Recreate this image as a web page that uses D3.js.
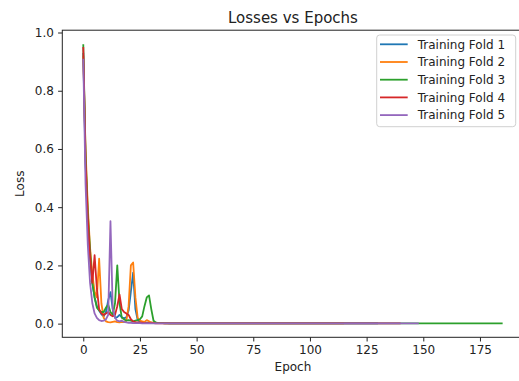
<!DOCTYPE html>
<html>
<head>
<meta charset="utf-8">
<script src="https://cdn.jsdelivr.net/npm/d3@7"></script>
<style>
  body { margin: 0; background: #fff; }
  svg { display: block; font-family: "DejaVu Sans", sans-serif; }
</style>
</head>
<body>
<div id="chart"><svg></svg></div>
<script>
// loss per epoch, one array per fold
var fold1 = [
  0.93, 0.55, 0.35, 0.22, 0.14, 0.09, 0.06, 0.045, 0.032, 0.025,
  0.04, 0.08, 0.108, 0.05, 0.02, 0.022, 0.03, 0.022, 0.018, 0.022,
  0.045, 0.11, 0.175, 0.05, 0.012, 0.007, 0.005, 0.004, 0.003, 0.003,
  0.003, 0.002, 0.002, 0.002, 0.002, 0.002, 0.002, 0.002, 0.001, 0.001,
  0.001, 0.001, 0.001, 0.001, 0.001, 0.001, 0.001, 0.001, 0.001, 0.001,
  0.001, 0.001, 0.001, 0.001, 0.001, 0.001, 0.001, 0.001, 0.001, 0.001,
  0.001, 0.001, 0.001, 0.001, 0.001, 0.001, 0.001, 0.001, 0.001, 0.001,
  0.001, 0.001, 0.001, 0.001, 0.001, 0.001, 0.001, 0.001, 0.001, 0.001,
  0.001, 0.001, 0.001, 0.001, 0.001, 0.001, 0.001, 0.001, 0.001, 0.001,
  0.001, 0.001, 0.001, 0.001, 0.001, 0.001, 0.001, 0.001, 0.001, 0.001,
  0.001, 0.001, 0.001, 0.001, 0.001, 0.001, 0.001, 0.001, 0.001, 0.001,
  0.001, 0.001, 0.001, 0.001, 0.001, 0.001, 0.001, 0.001, 0.001, 0.001,
  0.001, 0.001, 0.001, 0.001, 0.001, 0.001, 0.001, 0.001, 0.001, 0.001,
  0.001
];
var fold2 = [
  0.92, 0.6, 0.4, 0.26, 0.17, 0.11, 0.09, 0.223, 0.07, 0.02,
  0.008, 0.005, 0.004, 0.006, 0.008, 0.005, 0.004, 0.006, 0.005, 0.01,
  0.06, 0.2, 0.21, 0.09, 0.02, 0.01, 0.008, 0.006, 0.012, 0.008,
  0.004, 0.003, 0.002, 0.002, 0.002, 0.002, 0.001, 0.001, 0.001, 0.001,
  0.001, 0.001, 0.001, 0.001, 0.001, 0.001, 0.001, 0.001, 0.001, 0.001,
  0.001, 0.001, 0.001, 0.001, 0.001, 0.001, 0.001, 0.001, 0.001, 0.001,
  0.001, 0.001, 0.001, 0.001, 0.001, 0.001, 0.001, 0.001, 0.001, 0.001,
  0.001, 0.001, 0.001, 0.001, 0.001, 0.001, 0.001, 0.001, 0.001, 0.001,
  0.001, 0.001, 0.001, 0.001, 0.001, 0.001, 0.001, 0.001, 0.001, 0.001,
  0.001, 0.001, 0.001, 0.001, 0.001, 0.001, 0.001, 0.001, 0.001, 0.001,
  0.001, 0.001, 0.001, 0.001, 0.001, 0.001, 0.001, 0.001, 0.001, 0.001,
  0.001, 0.001, 0.001, 0.001, 0.001, 0.001
];
var fold3 = [
  0.96, 0.58, 0.38, 0.25, 0.14, 0.09, 0.055, 0.045, 0.04, 0.04,
  0.055, 0.065, 0.04, 0.03, 0.07, 0.2, 0.07, 0.02, 0.015, 0.01,
  0.012, 0.01, 0.008, 0.01, 0.012, 0.015, 0.025, 0.06, 0.09, 0.097,
  0.05, 0.01, 0.004, 0.002, 0.002, 0.002, 0.001, 0.001, 0.001, 0.001,
  0.001, 0.001, 0.001, 0.001, 0.001, 0.001, 0.001, 0.001, 0.001, 0.001,
  0.001, 0.001, 0.001, 0.001, 0.001, 0.001, 0.001, 0.001, 0.001, 0.001,
  0.001, 0.001, 0.001, 0.001, 0.001, 0.001, 0.001, 0.001, 0.001, 0.001,
  0.001, 0.001, 0.001, 0.001, 0.001, 0.001, 0.001, 0.001, 0.001, 0.001,
  0.001, 0.001, 0.001, 0.001, 0.001, 0.001, 0.001, 0.001, 0.001, 0.001,
  0.001, 0.001, 0.001, 0.001, 0.001, 0.001, 0.001, 0.001, 0.001, 0.001,
  0.001, 0.001, 0.001, 0.001, 0.001, 0.001, 0.001, 0.001, 0.001, 0.001,
  0.001, 0.001, 0.001, 0.001, 0.001, 0.001, 0.001, 0.001, 0.001, 0.001,
  0.001, 0.001, 0.001, 0.001, 0.001, 0.001, 0.001, 0.001, 0.001, 0.001,
  0.001, 0.001, 0.001, 0.001, 0.001, 0.001, 0.001, 0.001, 0.001, 0.001,
  0.001, 0.001, 0.001, 0.001, 0.001, 0.001, 0.001, 0.001, 0.001, 0.001,
  0.001, 0.001, 0.001, 0.001, 0.001, 0.001, 0.001, 0.001, 0.001, 0.001,
  0.001, 0.001, 0.001, 0.001, 0.001, 0.001, 0.001, 0.001, 0.001, 0.001,
  0.001, 0.001, 0.001, 0.001, 0.001, 0.001, 0.001, 0.001, 0.001, 0.001,
  0.001, 0.001, 0.001, 0.001, 0.001, 0.001
];
var fold4 = [
  0.95, 0.56, 0.36, 0.23, 0.14, 0.235, 0.12, 0.05, 0.035, 0.03,
  0.035, 0.04, 0.03, 0.025, 0.03, 0.06, 0.1, 0.05, 0.04, 0.035,
  0.03, 0.015, 0.008, 0.005, 0.004, 0.003, 0.003, 0.002, 0.002, 0.002,
  0.002, 0.002, 0.001, 0.001, 0.001, 0.001, 0.001, 0.001, 0.001, 0.001,
  0.001, 0.001, 0.001, 0.001, 0.001, 0.001, 0.001, 0.001, 0.001, 0.001,
  0.001, 0.001, 0.001, 0.001, 0.001, 0.001, 0.001, 0.001, 0.001, 0.001,
  0.001, 0.001, 0.001, 0.001, 0.001, 0.001, 0.001, 0.001, 0.001, 0.001,
  0.001, 0.001, 0.001, 0.001, 0.001, 0.001, 0.001, 0.001, 0.001, 0.001,
  0.001, 0.001, 0.001, 0.001, 0.001, 0.001, 0.001, 0.001, 0.001, 0.001,
  0.001, 0.001, 0.001, 0.001, 0.001, 0.001, 0.001, 0.001, 0.001, 0.001,
  0.001, 0.001, 0.001, 0.001, 0.001, 0.001, 0.001, 0.001, 0.001, 0.001,
  0.001, 0.001, 0.001, 0.001, 0.001, 0.001, 0.001, 0.001, 0.001, 0.001,
  0.001, 0.001, 0.001, 0.001, 0.001, 0.001, 0.001, 0.001, 0.001, 0.001,
  0.001, 0.001, 0.001, 0.001, 0.001, 0.001, 0.001, 0.001, 0.001, 0.001,
  0.001
];
var fold5 = [
  0.91, 0.48, 0.27, 0.14, 0.07, 0.035, 0.02, 0.012, 0.009, 0.01,
  0.015, 0.03, 0.352, 0.05, 0.02, 0.01, 0.008, 0.01, 0.006, 0.004,
  0.003, 0.003, 0.002, 0.002, 0.002, 0.002, 0.001, 0.001, 0.001, 0.001,
  0.001, 0.001, 0.001, 0.001, 0.001, 0.001, 0.001, 0.001, 0.001, 0.001,
  0.001, 0.001, 0.001, 0.001, 0.001, 0.001, 0.001, 0.001, 0.001, 0.001,
  0.001, 0.001, 0.001, 0.001, 0.001, 0.001, 0.001, 0.001, 0.001, 0.001,
  0.001, 0.001, 0.001, 0.001, 0.001, 0.001, 0.001, 0.001, 0.001, 0.001,
  0.001, 0.001, 0.001, 0.001, 0.001, 0.001, 0.001, 0.001, 0.001, 0.001,
  0.001, 0.001, 0.001, 0.001, 0.001, 0.001, 0.001, 0.001, 0.001, 0.001,
  0.001, 0.001, 0.001, 0.001, 0.001, 0.001, 0.001, 0.001, 0.001, 0.001,
  0.001, 0.001, 0.001, 0.001, 0.001, 0.001, 0.001, 0.001, 0.001, 0.001,
  0.001, 0.001, 0.001, 0.001, 0.001, 0.001, 0.001, 0.001, 0.001, 0.001,
  0.001, 0.001, 0.001, 0.001, 0.001, 0.001, 0.001, 0.001, 0.001, 0.001,
  0.001, 0.001, 0.001, 0.001, 0.001, 0.001, 0.001, 0.001, 0.001, 0.001,
  0.001, 0.001, 0.001, 0.001, 0.001, 0.001, 0.001, 0.001, 0.001
];

var seriesNames = ["Training Fold 1", "Training Fold 2", "Training Fold 3", "Training Fold 4", "Training Fold 5"];
var seriesColors = ["#1f77b4", "#ff7f0e", "#2ca02c", "#d62728", "#9467bd"];
var xTicks = [0, 25, 50, 75, 100, 125, 150, 175];
var yTicks = [0.0, 0.2, 0.4, 0.6, 0.8, 1.0];

var width = 519,
	height = 381,
	plotLeft = 62.3,
	plotRight = 523.6,
	plotTop = 30.2,
	plotBottom = 337.3;

var series = [fold1, fold2, fold3, fold4, fold5];

var svg = d3.select("#chart svg").attr("width", width).attr("height", height);

// matplotlib style 5% margins
var xMax = d3.max(series, function(s) { return s.length - 1; });
var yMin = d3.min(series, function(s) { return d3.min(s); });
var yMax = d3.max(series, function(s) { return d3.max(s); });
var xPad = xMax * 0.05, yPad = (yMax - yMin) * 0.05;

var x = d3.scaleLinear().domain([-xPad, xMax + xPad]).range([plotLeft, plotRight]);
var y = d3.scaleLinear().domain([yMin - yPad, yMax + yPad]).range([plotBottom, plotTop]);

var line = d3.line()
	.x(function(d, i) { return x(i); })
	.y(function(d) { return y(d); });

svg.append("g")
	.selectAll("path")
	.data(series)
	.enter()
	.append("path")
	.attr("d", line)
	.attr("fill", "none")
	.attr("stroke", function(d, i) { return seriesColors[i]; })
	.attr("stroke-width", 1.8)
	.attr("stroke-linejoin", "round");

// axes
var xAxis = d3.axisBottom(x).tickValues(xTicks).tickSize(4.2).tickPadding(4.2).tickFormat(d3.format("d"));
var yAxis = d3.axisLeft(y).tickValues(yTicks).tickSize(4.2).tickPadding(4.2).tickFormat(d3.format(".1f"));

var gx = svg.append("g").attr("transform", "translate(0," + plotBottom + ")").call(xAxis);
var gy = svg.append("g").attr("transform", "translate(" + plotLeft + ",0)").call(yAxis);
[gx, gy].forEach(function(g) {
	g.select(".domain").remove();
	g.selectAll(".tick line").attr("stroke", "#222").attr("stroke-width", 1);
	g.selectAll(".tick text").attr("fill", "#222").style("font-size", "12px").style("font-family", "DejaVu Sans");
});

svg.append("rect")
	.attr("x", plotLeft).attr("y", plotTop)
	.attr("width", plotRight - plotLeft).attr("height", plotBottom - plotTop)
	.attr("fill", "none").attr("stroke", "#222").attr("stroke-width", 1);

// labels
svg.append("text")
	.attr("x", (plotLeft + plotRight) / 2).attr("y", 22.5)
	.attr("text-anchor", "middle")
	.style("font-size", "15px")
	.attr("fill", "#222")
	.text("Losses vs Epochs");

svg.append("text")
	.attr("x", (plotLeft + plotRight) / 2).attr("y", 371)
	.attr("text-anchor", "middle")
	.style("font-size", "12px")
	.attr("fill", "#222")
	.text("Epoch");

svg.append("text")
	.attr("transform", "translate(24," + ((plotTop + plotBottom) / 2) + ") rotate(-90)")
	.attr("text-anchor", "middle")
	.style("font-size", "12px")
	.attr("fill", "#222")
	.text("Loss");

// legend
var legendRight = plotRight - 7.9,
	legendLeft = 376.7,
	legendTop = 35,
	rowH = 17.7;

var legend = svg.append("g");
legend.append("rect")
	.attr("x", legendLeft).attr("y", legendTop)
	.attr("width", legendRight - legendLeft).attr("height", 91.7)
	.attr("rx", 3).attr("ry", 3)
	.attr("fill", "#fff").attr("fill-opacity", 0.8)
	.attr("stroke", "#d0d0d0").attr("stroke-width", 1);

var rows = legend.selectAll("g.row")
	.data(seriesNames)
	.enter()
	.append("g")
	.attr("class", "row")
	.attr("transform", function(d, i) { return "translate(0," + (legendTop + 9.3 + i * rowH) + ")"; });

rows.append("line")
	.attr("x1", 380).attr("x2", 407.7)
	.attr("stroke", function(d, i) { return seriesColors[i]; })
	.attr("stroke-width", 1.8);

rows.append("text")
	.attr("x", 417.7).attr("dy", "0.36em")
	.style("font-size", "12px")
	.attr("fill", "#222")
	.text(function(d) { return d; });
</script>
</body>
</html>
